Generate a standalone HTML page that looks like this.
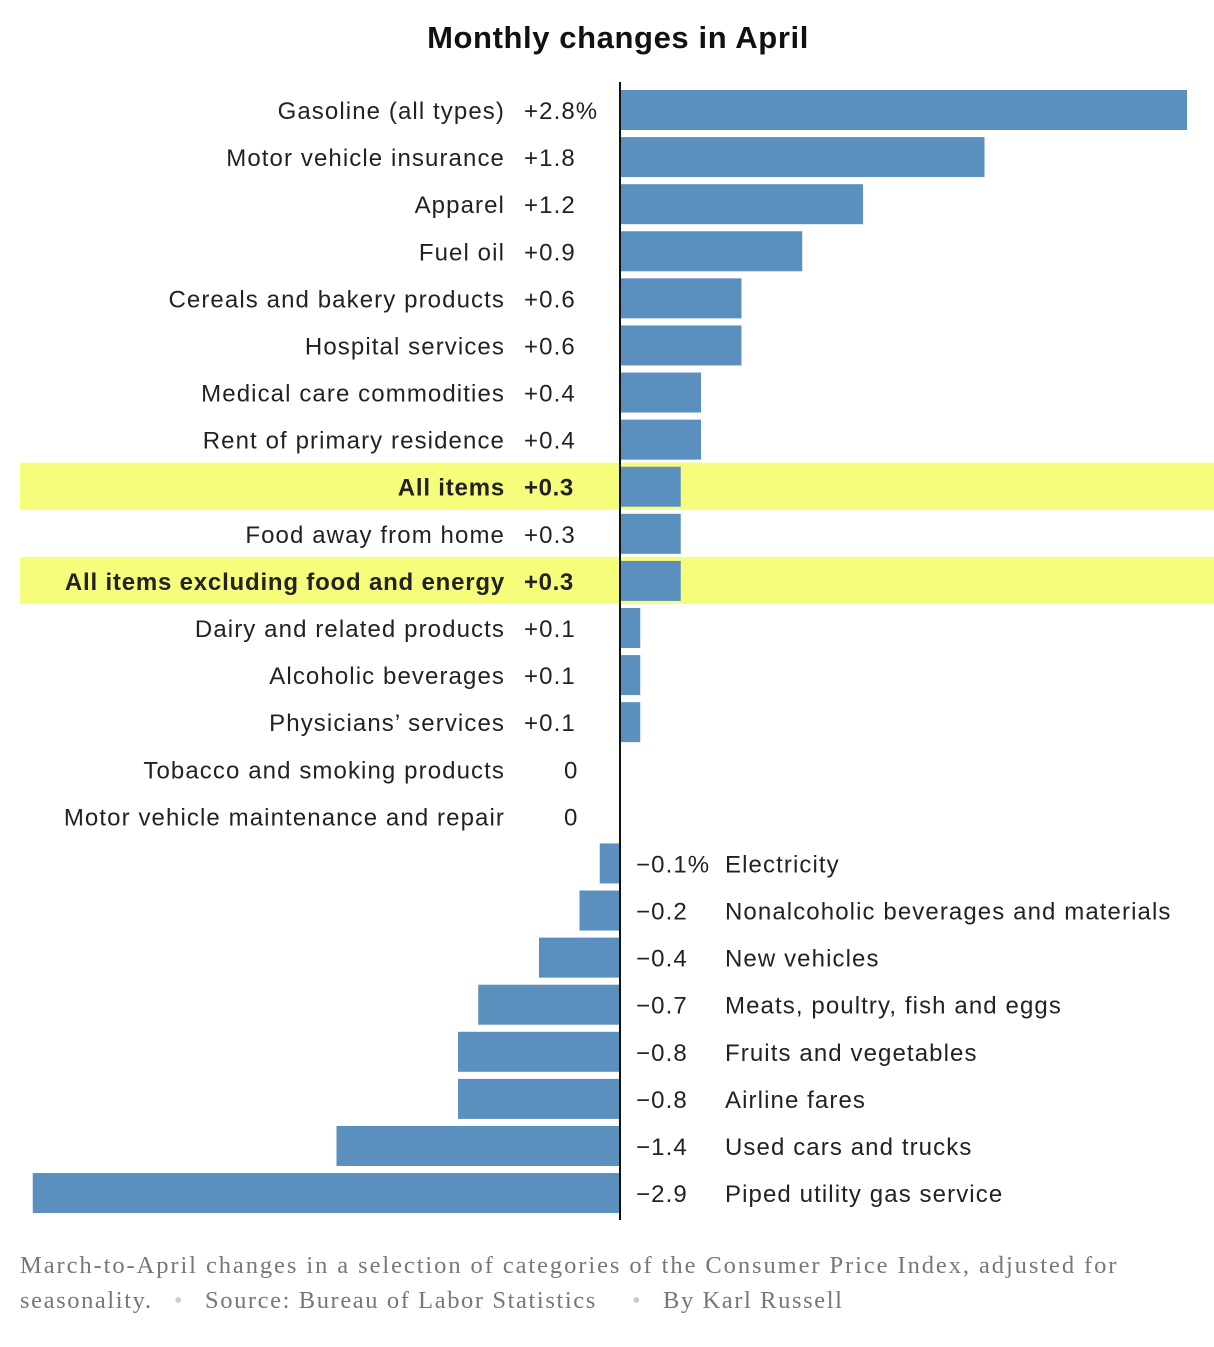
<!DOCTYPE html>
<html><head><meta charset="utf-8">
<style>
body{margin:0;background:#fff;width:1214px;height:1342px;overflow:hidden;font-family:"Liberation Sans",sans-serif;}
svg text{font-family:"Liberation Sans",sans-serif;}
</style></head>
<body>
<svg id="chart" width="1214" height="1342" xmlns="http://www.w3.org/2000/svg">
<text x="618" y="48" text-anchor="middle" font-size="31" font-weight="bold" letter-spacing="0.6" fill="#111">Monthly changes in April</text>
<g id="bands"></g>
<g id="bars"></g>
<g id="labels"></g>
<line x1="620" y1="82" x2="620" y2="1220" stroke="#111" stroke-width="2"/>
<text x="20" y="1273" font-size="24.5" letter-spacing="1.92" fill="#777" style="font-family:'Liberation Serif',serif">March-to-April changes in a selection of categories of the Consumer Price Index, adjusted for</text>
<text y="1308" font-size="24.5" letter-spacing="1.6" fill="#777" style="font-family:'Liberation Serif',serif"><tspan x="20">seasonality.</tspan><tspan x="174" fill="#ccc">•</tspan><tspan x="205">Source: Bureau of Labor Statistics</tspan><tspan x="632" fill="#ccc">•</tspan><tspan x="663">By Karl Russell</tspan></text>
</svg>
<script>
const categories=["Gasoline (all types)","Motor vehicle insurance","Apparel","Fuel oil","Cereals and bakery products","Hospital services","Medical care commodities","Rent of primary residence","All items","Food away from home","All items excluding food and energy","Dairy and related products","Alcoholic beverages","Physicians’ services","Tobacco and smoking products","Motor vehicle maintenance and repair","Electricity","Nonalcoholic beverages and materials","New vehicles","Meats, poultry, fish and eggs","Fruits and vegetables","Airline fares","Used cars and trucks","Piped utility gas service"];
const values=[2.8,1.8,1.2,0.9,0.6,0.6,0.4,0.4,0.3,0.3,0.3,0.1,0.1,0.1,0,0,-0.1,-0.2,-0.4,-0.7,-0.8,-0.8,-1.4,-2.9];
const valueLabels=["+2.8%","+1.8","+1.2","+0.9","+0.6","+0.6","+0.4","+0.4","+0.3","+0.3","+0.3","+0.1","+0.1","+0.1","0","0","−0.1%","−0.2","−0.4","−0.7","−0.8","−0.8","−1.4","−2.9"];
const highlighted=["All items","All items excluding food and energy"];
const NS="http://www.w3.org/2000/svg";
const x0=620, scale=202.5, top0=90, pitch=47.09, bh=40;
const xs=v=>x0+v*scale;
const ys=i=>top0+i*pitch;
const bands=document.getElementById('bands'),bars=document.getElementById('bars'),labels=document.getElementById('labels');
function mk(tag,attrs){const e=document.createElementNS(NS,tag);for(const k in attrs)e.setAttribute(k,attrs[k]);return e;}
categories.forEach((c,i)=>{
  const v=values[i],y=ys(i),hl=highlighted.includes(c);
  if(hl){const b=mk('rect',{x:20,y:y-4,width:1194,height:47,fill:'#f5fd7b'});
    
    
    bands.appendChild(b);}
  if(v!==0){const w=Math.abs(xs(v)-x0);
    const r=mk('rect',{x:v>0?x0+1:xs(v),y:y,width:Math.max(w-1,1),height:bh,fill:'#5a8fbe'});
    
    
    bars.appendChild(r);}
  const base=y+29,fw=hl?'bold':'normal';
  const common={'font-size':24,'letter-spacing':1.1,fill:'#222','font-weight':fw};
  let lab,val;
  if(v>=0){
    lab=mk('text',Object.assign({x:505,y:base,'text-anchor':'end'},common));
    val=mk('text',Object.assign({x:v===0?564:524,y:base},common));
  }else{
    lab=mk('text',Object.assign({x:725,y:base},common));
    val=mk('text',Object.assign({x:636,y:base},common));
  }
  if(hl){lab.setAttribute('letter-spacing',0.8);val.setAttribute('letter-spacing',0.6);}
  lab.textContent=c;val.textContent=valueLabels[i];
  
  
  
  
  labels.appendChild(lab);labels.appendChild(val);
});
</script>
</body></html>
